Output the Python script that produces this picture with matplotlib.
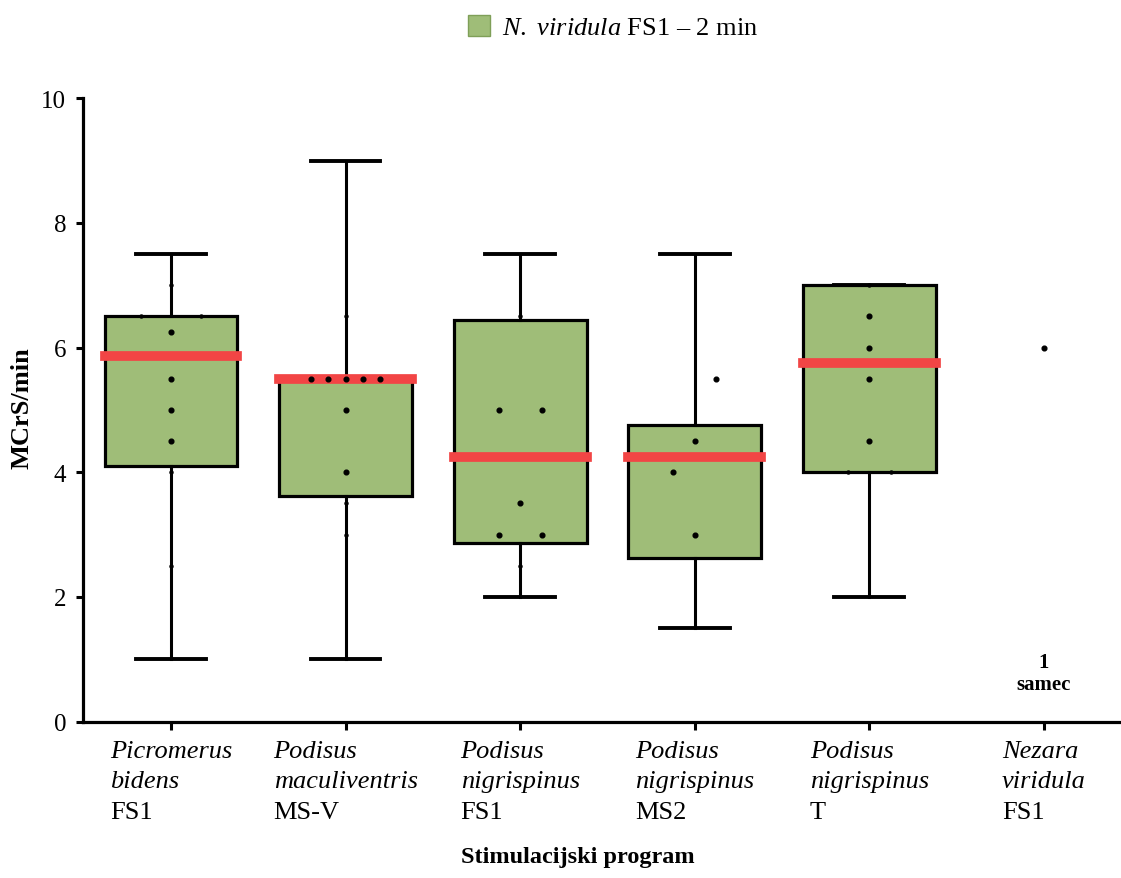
import matplotlib.pyplot as plt
from matplotlib.patches import Patch
from matplotlib.transforms import offset_copy

plt.rcParams['font.family'] = 'Liberation Serif'
plt.rcParams['mathtext.fontset'] = 'custom'
plt.rcParams['mathtext.rm'] = 'Liberation Serif'
plt.rcParams['mathtext.it'] = 'Liberation Serif:italic'
plt.rcParams['mathtext.bf'] = 'Liberation Serif:bold'

# categories
genus = ["Picromerus", "Podisus", "Podisus", "Podisus", "Podisus", "Nezara"]
species = ["bidens", "maculiventris", "nigrispinus", "nigrispinus", "nigrispinus", "viridula"]
programs = ["FS1", "MS-V", "FS1", "MS2", "T", "FS1"]

# box statistics (MCrS/min), first five groups
q1 = [4.1, 3.62, 2.87, 2.62, 4.0]
med = [5.87, 5.5, 4.25, 4.25, 5.75]
q3 = [6.5, 5.5, 6.45, 4.76, 7.0]
whislo = [1.0, 1.0, 2.0, 1.5, 2.0]
whishi = [7.5, 9.0, 7.5, 7.5, 7.0]

# individual observations and their horizontal spread
points = [
    [7.0, 6.5, 6.5, 6.25, 5.5, 5.0, 4.5, 4.0, 2.5],
    [6.5, 5.5, 5.5, 5.5, 5.5, 5.5, 5.0, 4.0, 3.5, 3.0],
    [6.5, 5.0, 5.0, 3.5, 3.0, 3.0, 2.5],
    [5.5, 4.5, 4.0, 3.0],
    [7.0, 6.5, 6.0, 5.5, 4.5, 4.0, 4.0],
    [6.0],
]
jitter = [
    [0, -0.17, 0.17, 0, 0, 0, 0, 0, 0],
    [0, -0.2, -0.1, 0, 0.1, 0.2, 0, 0, 0, 0],
    [0, -0.124, 0.124, 0, -0.124, 0.124, 0],
    [0.124, 0, -0.124, 0],
    [0, 0, 0, 0, 0, -0.124, 0.124],
    [0],
]

green = '#9fbd78'
red = '#f24545'


def on_line(i, v, j):
    # dots hidden under a box edge or whisker look like small bumps
    if i >= len(q1) or abs(v - med[i]) < 0.05:
        return False
    if abs(v - q1[i]) < 0.06 or abs(v - q3[i]) < 0.06:
        return True
    return j == 0 and (v < q1[i] or v > q3[i])


fig = plt.figure(figsize=(11.21, 8.79), dpi=100)
ax = fig.add_axes([0.074, 0.178, 0.926, 0.709])

stats = []
for i in range(len(q1)):
    stats.append(dict(q1=q1[i], med=med[i], q3=q3[i], whislo=whislo[i], whishi=whishi[i], label=''))

ax.bxp(stats, positions=range(len(stats)), widths=0.76, capwidths=0.4,
       patch_artist=True, showfliers=False,
       boxprops=dict(facecolor=green, edgecolor='black', linewidth=2.3),
       medianprops=dict(color=red, linewidth=7, solid_capstyle='projecting'),
       whiskerprops=dict(color='black', linewidth=2.2),
       capprops=dict(color='black', linewidth=2.8),
       manage_ticks=False)

for i, (vals, jit) in enumerate(zip(points, jitter)):
    for v, j in zip(vals, jit):
        ms = 2.2 if on_line(i, v, j) else 3.4
        ax.plot(i + j, v, 'o', color='black', ms=ms, zorder=5)

ax.text(5, 0.78, "1\nsamec", ha='center', va='center', fontsize=15,
        fontweight='bold', linespacing=1.15)

ax.set_xticks(range(6))
ax.set_xticklabels([])
ax.set_xlim(-0.504, 5.441)
ax.set_ylim(0, 10)
ax.set_yticks([0, 2, 4, 6, 8, 10])
ax.tick_params(axis='y', labelsize=18, length=5, width=2.2, pad=7)
ax.tick_params(axis='x', length=6, width=2.2)
for s in ['top', 'right']:
    ax.spines[s].set_visible(False)
for s in ['left', 'bottom']:
    ax.spines[s].set_linewidth(2.3)

# category labels: three lines, left aligned, block centred under the tick
fig.canvas.draw()
renderer = fig.canvas.get_renderer()
base = ax.get_xaxis_transform()
for i, (g, s, p) in enumerate(zip(genus, species, programs)):
    lines = [(g, 'italic'), (s, 'italic'), (p, 'normal')]
    texts = []
    for k, (txt, style) in enumerate(lines):
        t = ax.text(i, 0, txt, fontsize=19, fontstyle=style, ha='left', va='baseline',
                    transform=base, clip_on=False)
        texts.append(t)
    wmax = max(t.get_window_extent(renderer).width for t in texts)
    for k, t in enumerate(texts):
        t.set_transform(offset_copy(base, fig=fig, x=-wmax / 2 * 72 / fig.dpi,
                                    y=-(25.2 + 22 * k), units='points'))

fig.text(22 / 1121, 1 - 408 / 879, "MCrS/min", rotation=90, ha='center', va='center',
         fontsize=19, fontweight='bold')
fig.text(578 / 1121, 1 - 858 / 879, "Stimulacijski program", ha='center', va='center',
         fontsize=17.5, fontweight='bold')

handle = Patch(facecolor=green, edgecolor='#7f9f58', linewidth=1)
fig.legend(handles=[handle], labels=[r"$\mathit{N.}$ $\mathit{viridula}$ FS1 – 2 min"],
           loc='center left', bbox_to_anchor=(468 / 1121, 1 - 28 / 879),
           frameon=False, fontsize=19, handlelength=0.85, handleheight=0.85,
           handletextpad=0.45, borderpad=0, borderaxespad=0)

fig.savefig('out.png', dpi=100)
